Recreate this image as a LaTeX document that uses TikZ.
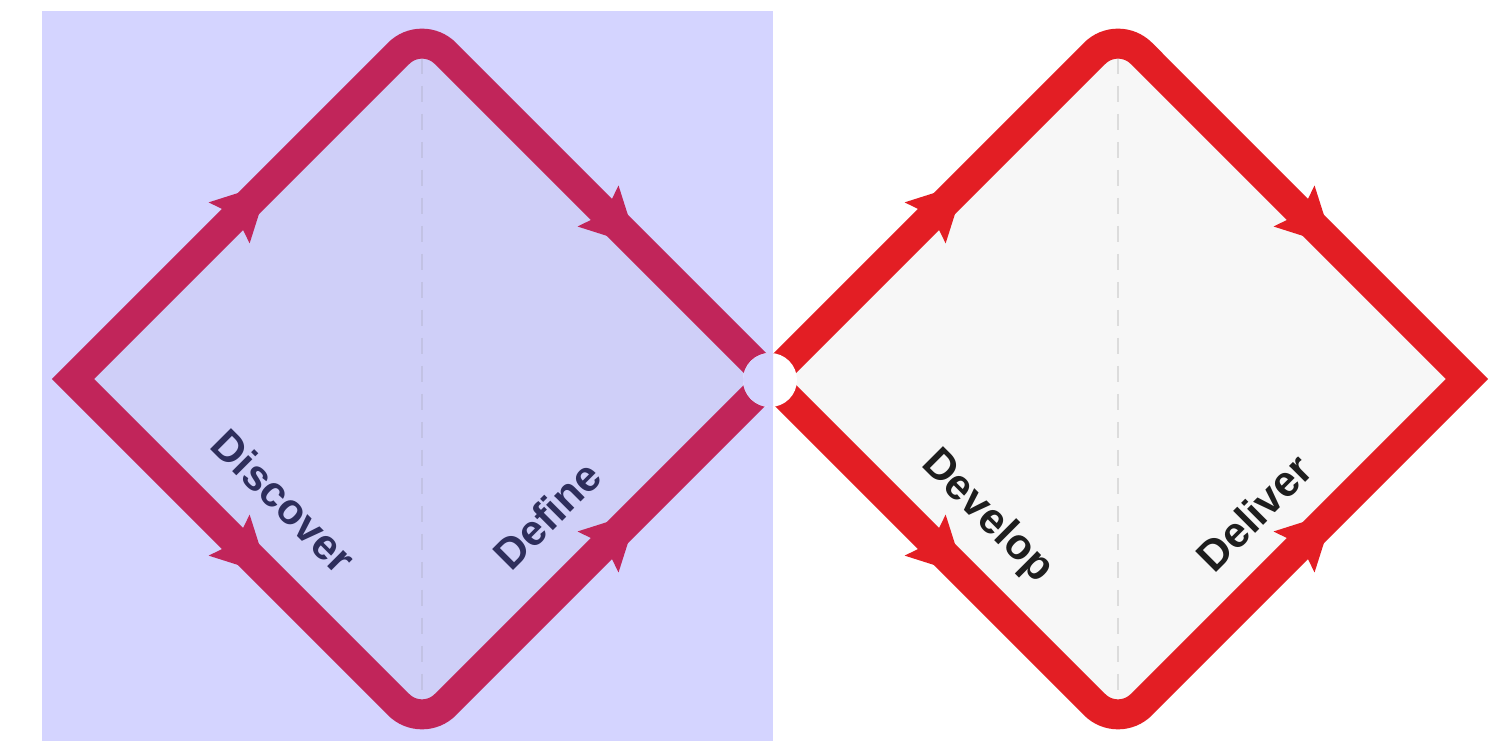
\documentclass[tikz,border=0pt]{standalone}
\usepackage{fontspec}
\setmainfont{Liberation Sans}
\usetikzlibrary{calc}
\definecolor{bglav}{HTML}{D4D4FF}
\definecolor{lfill}{HTML}{CFCFF8}
\definecolor{lstroke}{HTML}{C1255A}
\definecolor{rstroke}{HTML}{E31E24}
\definecolor{rfill}{HTML}{F7F7F7}
\definecolor{ltext}{HTML}{2E2E5C}
\definecolor{rtext}{HTML}{1E1E1E}
\definecolor{ldash}{HTML}{C2C2E4}
\definecolor{rdash}{HTML}{DCDCDC}
\begin{document}
\begin{tikzpicture}[x=1pt,y=1pt,
  edge/.style={line width=30pt, line join=miter, miter limit=10},
  guide/.style={line width=1.5pt, dash pattern=on 16pt off 12pt},
  phase/.style={font=\bfseries\fontsize{43}{43}\selectfont, inner sep=0pt},
  arrowhd/.pic={\fill (30,0) -- (-26,29) -- (-16,0) -- (-26,-29) -- cycle;},
  diam/.style n args={4}{insert path={(#1) -- ($(#2)+(-23.33,-23.33)$)
     arc[start angle=135,end angle=45,radius=33pt] -- (#3)
     -- ($(#4)+(23.33,23.33)$) arc[start angle=-45,end angle=-135,radius=33pt] -- cycle}}
]
\useasboundingbox (0,0) rectangle (1490,741);
\fill[white] (0,0) rectangle (1490,741);
\fill[bglav] (42,0) rectangle (773,730);

% left diamond
\coordinate (L1) at (73,362);
\coordinate (T1) at (422,711);
\coordinate (R1) at (771,362);
\coordinate (B1) at (422,13);
% right diamond
\coordinate (L2) at (769,362);
\coordinate (T2) at (1118,711);
\coordinate (R2) at (1467,362);
\coordinate (B2) at (1118,13);
\coordinate (J) at (770,361);

\fill[lfill, diam={L1}{T1}{R1}{B1}];
\fill[rfill, diam={L2}{T2}{R2}{B2}];
\draw[guide, ldash] (T1) -- (B1);
\draw[guide, rdash] (T2) -- (B2);
\draw[edge, lstroke, diam={L1}{T1}{R1}{B1}];
\draw[edge, rstroke, diam={L2}{T2}{R2}{B2}];

% arrowheads
\pic[lstroke, rotate=45]  at ($(L1)!0.5!(T1)$) {arrowhd};
\pic[lstroke, rotate=-45] at ($(T1)!0.557!(R1)$) {arrowhd};
\pic[lstroke, rotate=-45] at ($(L1)!0.5!(B1)$) {arrowhd};
\pic[lstroke, rotate=45]  at ($(B1)!0.557!(R1)$) {arrowhd};
\pic[rstroke, rotate=45]  at ($(L2)!0.5!(T2)$) {arrowhd};
\pic[rstroke, rotate=-45] at ($(T2)!0.557!(R2)$) {arrowhd};
\pic[rstroke, rotate=-45] at ($(L2)!0.5!(B2)$) {arrowhd};
\pic[rstroke, rotate=45]  at ($(B2)!0.557!(R2)$) {arrowhd};

% junction
\fill[white] (J) circle[radius=27pt];
\begin{scope}
  \clip (42,0) rectangle (773,730);
  \fill[bglav] (J) circle[radius=27pt];
\end{scope}

% labels
\node[phase, ltext, rotate=-45] (discover) at (284,240) {Discover};
\node[phase, ltext, rotate=45]  (define)   at (547,226) {Define};
\node[phase, rtext, rotate=-45] (develop)  at (987,224) {Develop};
\node[phase, rtext, rotate=45]  (deliver)  at (1254,228) {Deliver};
\end{tikzpicture}
\end{document}
